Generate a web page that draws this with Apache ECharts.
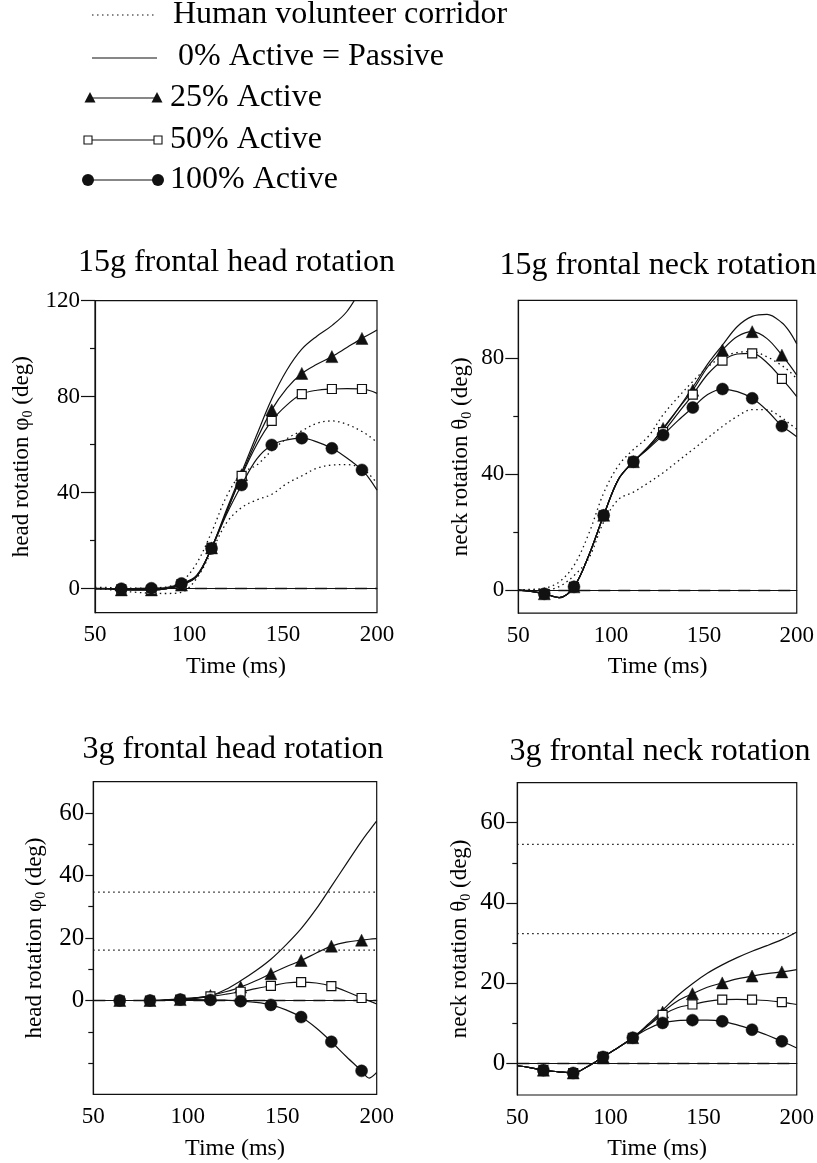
<!DOCTYPE html>
<html><head><meta charset="utf-8">
<script src="https://cdn.jsdelivr.net/npm/echarts@6.0.0/dist/echarts.min.js"></script>
<style>html,body{margin:0;padding:0;background:#fff}#c{width:817px;height:1163px}</style>
</head><body><div id="c"></div>
<script>
// ---- data ----
const time = [50,56,64,72,80,88,96,104,112,120,128,136,144,152,160,168,176,184,192,196,200];
const markerTimes = [64,80,96,112,128,144,160,176,192];
const corridorTime3g = [50,200];

// 15g frontal head rotation
const head15Passive = [0,0,-0.3,-0.5,-0.5,0,2,5.5,17,33,48.5,64,79,91,99.8,105.2,109.6,115.5,125.5,131,136];
const head15Act25   = [0,0,-0.5,-0.5,-0.5,0,1.5,5,17,32,47.5,62,74.5,83.5,89.7,93.5,96.7,100.5,104.3,106,107.8];
const head15Act50   = [0,0,-0.3,-0.5,-0.5,0,1.8,5,17,32,47,60,69.9,76.5,81.1,82.7,83.2,83.4,83.2,82.6,81.4];
const head15Act100  = [0,0,0,0,0.2,0.5,2.2,5,16.8,31,43.2,54,59.9,62,62.7,61.2,58.5,54.5,49.5,45.8,41.1];
const head15CorrUp  = [0.5,0.5,0.3,0.2,0.3,0.8,2.9,10.5,23.5,38.5,48,51.5,57.5,62.5,65.8,68.9,69.9,68.5,65.5,63.5,61];
const head15CorrLo  = [0,-0.3,-1,-1.5,-1.9,-2,-1.5,4.2,15.5,27.5,33.8,37,39.3,43.8,47,50.2,51.5,51.7,50.3,47.5,44];

// 15g frontal neck rotation
const neck15Passive = [0,-0.4,-1.3,-2.6,1.1,12,25.8,38.3,44.3,49.5,55.5,62.5,70,78,84.6,91,94.5,95.2,92.3,89.3,85];
const neck15Act25   = [0,-0.4,-1.3,-2.6,1.1,12,25.8,38.3,44.3,49.3,55.8,62.5,69,77,82.9,87.5,89.2,86.8,81.1,77.8,74.2];
const neck15Act50   = [0,-0.4,-1.3,-2.6,1.1,12,25.8,38.3,44.3,49,54.5,61,67.5,74.5,79.2,81.5,81.7,78.5,72.9,70,66.8];
const neck15Act100  = [0,-0.4,-1.3,-2.6,1.1,12,25.8,38.3,44.3,48.8,53.5,58.5,63,67.5,69.4,68.5,66.2,62,56.6,54.8,52.9];
const neck15CorrUp  = [0,0.2,0.6,2.8,8.5,19.5,33.5,43,48.5,53,60.5,66.5,72,77,80.5,82,82.3,80.5,77.5,75.5,73];
const neck15CorrLo  = [0,0,0,1.2,5,11,23.5,31.3,33.8,37,40.5,44.5,48.5,52.5,56.5,60,62.3,62.2,59.5,57.5,55.5];

// 3g frontal head rotation
const head3Passive = [0,0,0,0,0,0.2,0.5,0.9,1.5,3.5,6.3,9.5,13.2,17.8,23,29.3,36.5,43.8,51,54.3,57.5];
const head3Act25   = [0,0,0,0,0,0.1,0.3,0.8,1.6,2.8,4.3,6.3,8.6,10.8,12.8,15.2,17.4,18.7,19.3,19.6,19.8];
const head3Act50   = [0,0,0,0,0,0.1,0.3,0.7,1.3,2,2.8,3.8,4.7,5.6,5.9,5.6,4.6,2.9,0.8,-0.1,-1.1];
const head3Act100  = [0,0,0,0,0,0.1,0.3,0.3,0.2,0.1,-0.2,-0.6,-1.4,-3,-5.3,-8.8,-13.2,-18,-22.5,-24.8,-23];
const head3CorrUp  = [34.7,34.7];
const head3CorrLo  = [16.1,16.1];

// 3g frontal neck rotation
const neck3Passive = [-0.7,-1.1,-1.8,-2.2,-2.5,-0.8,1.5,3.8,6.3,9.6,13.2,16.8,19.8,22.4,24.5,26.3,27.9,29.3,30.8,31.7,32.7];
const neck3Act25   = [-0.7,-1.1,-1.8,-2.2,-2.5,-0.8,1.5,3.8,6.3,9.3,12.7,15.5,17.3,18.9,20,21,21.7,22.3,22.75,23,23.3];
const neck3Act50   = [-0.7,-1.1,-1.8,-2.2,-2.5,-0.8,1.5,3.8,6.3,9.2,12,13.8,14.6,15.4,15.8,15.9,15.8,15.6,15.2,14.9,14.6];
const neck3Act100  = [-0.7,-1.1,-1.8,-2.2,-2.5,-0.8,1.5,3.8,6.3,8.5,10,10.6,10.7,10.7,10.4,9.5,8.3,7,5.4,4.6,3.75];
const neck3CorrUp  = [54.6,54.6];
const neck3CorrLo  = [32.3,32.3];

// tick labels
const xTicks = [50,100,150,200];
const head15YLabels = [0,40,80,120], head15YMinor = [20,60,100];
const neck15YLabels = [0,40,80],     neck15YMinor = [20,60];
const head3YLabels  = [0,20,40,60],  head3YMinor  = [-20,-10,10,30,50];
const neck3YLabels  = [0,20,40,60],  neck3YMinor  = [10,30,50];

const titles = ['15g frontal head rotation','15g frontal neck rotation','3g frontal head rotation','3g frontal neck rotation'];
const legendLabels = ['Human volunteer corridor','0% Active = Passive','25% Active','50% Active','100% Active'];

// ---- layout ----
const FONT = 'Liberation Serif';
const panels = [
  {grid:{left:95,top:300.7,width:282,height:312}, yMin:-10,yMax:120, labels:head15YLabels, minor:head15YMinor, lm:15, tl:14, yf:23, nameGap:60, yName:'{a|head rotation φ}{s|0}{a| (deg)}',
   passive:head15Passive,a25:head15Act25,a50:head15Act50,a100:head15Act100,cT:time,cU:head15CorrUp,cL:head15CorrLo, tx:236.5, ty:263},
  {grid:{left:518.3,top:300.4,width:280,height:312.8}, yMin:-8,yMax:100, labels:neck15YLabels, minor:neck15YMinor, lm:14, tl:13, yf:23, nameGap:44, yName:'{a|neck rotation θ}{s|0}{a| (deg)}',
   passive:neck15Passive,a25:neck15Act25,a50:neck15Act50,a100:neck15Act100,cT:time,cU:neck15CorrUp,cL:neck15CorrLo, tx:658, ty:266},
  {grid:{left:93.3,top:781.7,width:283.4,height:312.6}, yMin:-30,yMax:70, labels:head3YLabels, minor:head3YMinor, lm:9, tl:8, yf:25, nameGap:45, yName:'{a|head rotation φ}{s|0}{a| (deg)}',
   passive:head3Passive,a25:head3Act25,a50:head3Act50,a100:head3Act100,cT:corridorTime3g,cU:head3CorrUp,cL:head3CorrLo, tx:233, ty:750},
  {grid:{left:517.3,top:782.7,width:280,height:312.3}, yMin:-8,yMax:70, labels:neck3YLabels, minor:neck3YMinor, lm:12, tl:11, yf:25, nameGap:44, yName:'{a|neck rotation θ}{s|0}{a| (deg)}',
   passive:neck3Passive,a25:neck3Act25,a50:neck3Act50,a100:neck3Act100,cT:corridorTime3g,cU:neck3CorrUp,cL:neck3CorrLo, tx:660, ty:752}
];

const BLACK = '#111';
const grids = [], xAxes = [], yAxes = [], series = [], graphics = [];

function pairs(ts, vs){ return ts.map((t,i)=>[t, vs[i]]); }
function marked(vs){
  return time.map((t,i)=>{
    const item = {value:[t, vs[i]]};
    if (!markerTimes.includes(t)) item.symbol = 'none';
    return item;
  });
}

panels.forEach((p, i) => {
  grids.push(Object.assign({show:true, borderColor:BLACK, borderWidth:1.2, backgroundColor:'transparent'}, p.grid));
  xAxes.push({type:'value', gridIndex:i, min:50, max:200, interval:50,
    axisLine:{show:true, lineStyle:{color:BLACK, width:1.2}}, axisTick:{show:false}, splitLine:{show:false},
    axisLabel:{color:'#000', fontFamily:FONT, fontSize:23, margin:11},
    name:'Time (ms)', nameLocation:'middle', nameGap:42,
    nameTextStyle:{color:'#000', fontFamily:FONT, fontSize:24}});
  yAxes.push({type:'value', gridIndex:i, min:p.yMin, max:p.yMax, position:'left',
    axisLine:{show:true, lineStyle:{color:BLACK, width:1.2}},
    axisTick:{show:true, customValues:p.labels, length:p.tl, inside:false, lineStyle:{color:BLACK, width:1.2}},
    axisLabel:{customValues:p.labels, color:'#000', fontFamily:FONT, fontSize:p.yf, margin:p.lm},
    splitLine:{show:false},
    name:p.yName, nameLocation:'middle', nameGap:p.nameGap, nameRotate:90,
    nameTextStyle:{color:'#000', fontFamily:FONT, fontSize:23,
      rich:{a:{fontFamily:FONT, fontSize:23, color:'#000', lineHeight:26},
            s:{fontFamily:FONT, fontSize:14, color:'#000', lineHeight:26, verticalAlign:'bottom'}}}});
  yAxes.push({type:'value', gridIndex:i, min:p.yMin, max:p.yMax, position:'left', offset:0,
    axisLine:{show:false}, axisLabel:{show:false}, splitLine:{show:false},
    axisTick:{show:true, customValues:p.minor, length:5, lineStyle:{color:BLACK, width:1.2}}});
  const yi = i*2;
  const dotted = {color:BLACK, width:1.3, type:[1.5,3.5]};
  series.push({type:'line', name:'corrUp'+i, xAxisIndex:i, yAxisIndex:yi, data:pairs(p.cT,p.cU), showSymbol:false, symbol:'none', smooth:0.35, lineStyle:dotted, z:2});
  series.push({type:'line', name:'corrLo'+i, xAxisIndex:i, yAxisIndex:yi, data:pairs(p.cT,p.cL), showSymbol:false, symbol:'none', smooth:0.35, lineStyle:dotted, z:2});
  series.push({type:'line', name:'passive'+i, xAxisIndex:i, yAxisIndex:yi, data:pairs(time,p.passive), showSymbol:false, symbol:'none', smooth:0.35,
    lineStyle:{color:BLACK, width:1.2}, z:3,
    markLine:{silent:true, symbol:'none', label:{show:false}, animation:false,
      lineStyle:{color:BLACK, width:1.3, type:[12,8]}, data:[{yAxis:0}]}});
  series.push({type:'line', name:'a25'+i, xAxisIndex:i, yAxisIndex:yi, data:marked(p.a25), symbol:'triangle', symbolSize:[12,12], showAllSymbol:true, smooth:0.35,
    lineStyle:{color:BLACK, width:1.2}, itemStyle:{color:BLACK, borderColor:BLACK, borderWidth:0.5}, z:4});
  series.push({type:'line', name:'a50'+i, xAxisIndex:i, yAxisIndex:yi, data:marked(p.a50), symbol:'rect', symbolSize:9, showAllSymbol:true, smooth:0.35,
    lineStyle:{color:BLACK, width:1.2}, itemStyle:{color:'#fff', borderColor:BLACK, borderWidth:1.2}, z:5});
  series.push({type:'line', name:'a100'+i, xAxisIndex:i, yAxisIndex:yi, data:marked(p.a100), symbol:'circle', symbolSize:12, showAllSymbol:true, smooth:0.35,
    lineStyle:{color:BLACK, width:1.2}, itemStyle:{color:BLACK, borderColor:BLACK, borderWidth:0.5}, z:6});
  graphics.push({type:'text', x:p.tx, y:p.ty, style:{text:titles[i], font:'32px "Liberation Serif"', fill:'#000',
    textAlign:'center', align:'center', textVerticalAlign:'middle', verticalAlign:'middle'}});
});

// legend (drawn manually to mimic the line-with-end-markers style)
const legRows = [15, 58, 98, 140, 180];
const legTextX = [173, 178, 170, 170, 170];
const legTextY = [15, 56.5, 97.5, 139.5, 179.5];
const lineStyleSolid = {stroke:BLACK, lineWidth:1.2};
graphics.push({type:'line', shape:{x1:92,y1:legRows[0],x2:157,y2:legRows[0]}, style:{stroke:BLACK, lineWidth:1.2, lineDash:[1.5,3.5]}});
graphics.push({type:'line', shape:{x1:92,y1:legRows[1],x2:157,y2:legRows[1]}, style:lineStyleSolid});
graphics.push({type:'line', shape:{x1:90,y1:legRows[2],x2:157,y2:legRows[2]}, style:lineStyleSolid});
[90,157].forEach(x=>graphics.push({type:'polygon', shape:{points:[[x-5.5,legRows[2]+4.5],[x+5.5,legRows[2]+4.5],[x,legRows[2]-6]]}, style:{fill:BLACK}}));
graphics.push({type:'line', shape:{x1:88,y1:legRows[3],x2:158,y2:legRows[3]}, style:lineStyleSolid});
[88,158].forEach(x=>graphics.push({type:'rect', shape:{x:x-4,y:legRows[3]-4,width:8,height:8}, style:{fill:'#fff', stroke:BLACK, lineWidth:1.1}, z:10}));
graphics.push({type:'line', shape:{x1:88,y1:legRows[4],x2:158,y2:legRows[4]}, style:lineStyleSolid});
[88,158].forEach(x=>graphics.push({type:'circle', shape:{cx:x,cy:legRows[4],r:6}, style:{fill:BLACK}}));
legendLabels.forEach((t,i)=>graphics.push({type:'text', x:legTextX[i], y:legTextY[i],
  style:{text:t, font:'32px "Liberation Serif"', fill:'#000', textAlign:'left', align:'left', textVerticalAlign:'middle', verticalAlign:'middle'}}));

const chart = echarts.init(document.getElementById('c'), null, {renderer:'canvas'});
chart.setOption({
  animation:false,
  backgroundColor:'#fff',
  grid:grids, xAxis:xAxes, yAxis:yAxes, series:series, graphic:graphics
});
</script>
</body></html>
